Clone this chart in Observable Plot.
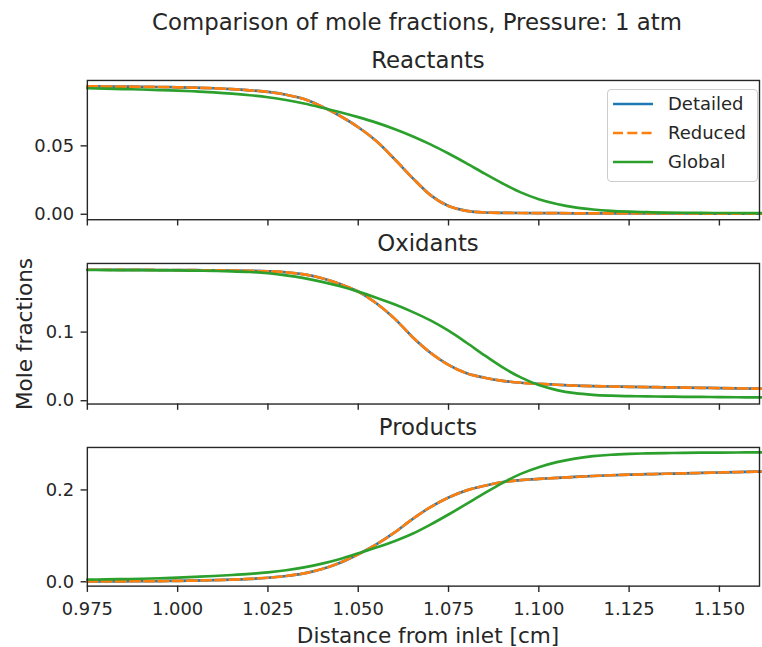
<!DOCTYPE html>
<html>
<head>
<meta charset="utf-8">
<script src="https://cdn.jsdelivr.net/npm/d3@7"></script>
<script src="https://cdn.jsdelivr.net/npm/@observablehq/plot@0.6"></script>
<style>
html, body { margin: 0; padding: 0; background: #fff; overflow: hidden; }
#fig { position: relative; width: 762px; height: 647px; overflow: hidden; font-family: "DejaVu Sans", sans-serif; color: #262626; }
.panel { position: absolute; left: 0; }
.panel svg { overflow: visible; }
#overlay { position: absolute; left: 0; top: 0; pointer-events: none; }
#legend { position: absolute; box-sizing: border-box; border: 1px solid #cccccc; border-radius: 4px; background: rgba(255,255,255,0.8); }
#legend .lbl { position: absolute; font-size: 18px; line-height: 22px; height: 22px; white-space: nowrap; color: #262626; }
#legend svg { position: absolute; }
[aria-label$="-axis tick"] { stroke-width: 1.4px; }
</style>
</head>
<body>
<div id="fig"></div>
<script>
// ---- data ----
const distance = [0.975,0.980,0.985,0.990,0.995,1.000,1.005,1.010,1.015,1.020,1.025,1.030,1.035,1.040,1.045,1.050,1.055,1.060,1.065,1.070,1.075,1.080,1.085,1.090,1.095,1.100,1.105,1.110,1.115,1.120,1.125,1.130,1.135,1.140,1.145,1.150,1.155,1.160,1.165];

const reactantsDetailed = [0.0935,0.0934,0.0933,0.0932,0.0930,0.0928,0.0925,0.0921,0.0915,0.0906,0.0894,0.0874,0.0842,0.0787,0.0718,0.0636,0.0535,0.0405,0.0266,0.0140,0.0060,0.0025,0.0013,0.0010,0.0009,0.0008,0.0008,0.0007,0.0007,0.0007,0.0006,0.0006,0.0006,0.0006,0.0005,0.0005,0.0005,0.0005,0.0005];
const reactantsReduced  = [0.0935,0.0934,0.0933,0.0932,0.0930,0.0928,0.0925,0.0921,0.0915,0.0906,0.0894,0.0874,0.0842,0.0787,0.0718,0.0636,0.0535,0.0405,0.0266,0.0140,0.0060,0.0025,0.0013,0.0010,0.0009,0.0008,0.0008,0.0007,0.0007,0.0007,0.0006,0.0006,0.0006,0.0006,0.0005,0.0005,0.0005,0.0005,0.0005];
const reactantsGlobal   = [0.0921,0.0918,0.0915,0.0912,0.0908,0.0904,0.0898,0.0891,0.0882,0.0870,0.0855,0.0835,0.0810,0.0779,0.0746,0.0710,0.0670,0.0624,0.0571,0.0511,0.0444,0.0372,0.0297,0.0225,0.0160,0.0110,0.0075,0.0050,0.0035,0.0025,0.0019,0.0015,0.0012,0.0011,0.0010,0.0009,0.0009,0.0008,0.0008];

const oxidantsDetailed = [0.1908,0.1908,0.1907,0.1906,0.1905,0.1904,0.1902,0.1900,0.1897,0.1893,0.1886,0.1872,0.1840,0.1785,0.1700,0.1590,0.1420,0.1200,0.0930,0.0700,0.0522,0.0400,0.0335,0.0290,0.0262,0.0245,0.0233,0.0221,0.0213,0.0207,0.0203,0.0199,0.0195,0.0192,0.0188,0.0184,0.0180,0.0176,0.0172];
const oxidantsReduced  = [0.1908,0.1908,0.1907,0.1906,0.1905,0.1904,0.1902,0.1900,0.1897,0.1893,0.1886,0.1872,0.1840,0.1785,0.1700,0.1590,0.1420,0.1200,0.0930,0.0700,0.0522,0.0400,0.0335,0.0290,0.0262,0.0245,0.0233,0.0221,0.0213,0.0207,0.0203,0.0199,0.0195,0.0192,0.0188,0.0184,0.0180,0.0176,0.0172];
const oxidantsGlobal   = [0.1905,0.1904,0.1903,0.1902,0.1900,0.1898,0.1895,0.1891,0.1886,0.1876,0.1857,0.1827,0.1786,0.1732,0.1667,0.1590,0.1502,0.1405,0.1295,0.1170,0.1020,0.0845,0.0660,0.0485,0.0340,0.0228,0.0155,0.0110,0.0086,0.0074,0.0067,0.0063,0.0060,0.0057,0.0055,0.0053,0.0051,0.0049,0.0048];

const productsDetailed = [0.0008,0.0009,0.0010,0.0012,0.0015,0.0020,0.0026,0.0034,0.0046,0.0063,0.0088,0.0125,0.0183,0.0277,0.0415,0.0600,0.0815,0.1070,0.1365,0.1625,0.1835,0.1990,0.2090,0.2172,0.2213,0.2240,0.2262,0.2284,0.2304,0.2320,0.2332,0.2343,0.2352,0.2361,0.2370,0.2380,0.2389,0.2397,0.2405];
const productsReduced  = [0.0008,0.0009,0.0010,0.0012,0.0015,0.0020,0.0026,0.0034,0.0046,0.0063,0.0088,0.0125,0.0183,0.0277,0.0415,0.0600,0.0815,0.1070,0.1365,0.1625,0.1835,0.1990,0.2090,0.2172,0.2213,0.2240,0.2262,0.2284,0.2304,0.2320,0.2332,0.2343,0.2352,0.2361,0.2370,0.2380,0.2389,0.2397,0.2405];
const productsGlobal   = [0.0048,0.0052,0.0058,0.0066,0.0077,0.0092,0.0108,0.0126,0.0147,0.0172,0.0205,0.0250,0.0313,0.0395,0.0497,0.0620,0.0745,0.0885,0.1045,0.1245,0.1465,0.1695,0.1930,0.2155,0.2350,0.2495,0.2605,0.2683,0.2735,0.2767,0.2785,0.2796,0.2803,0.2808,0.2811,0.2814,0.2816,0.2817,0.2818];

const seriesNames  = ["Detailed", "Reduced", "Global"];
const seriesColors = ["#1f77b4", "#ff7f0e", "#2ca02c"];
const seriesDash   = [null, "10,4.3", null];

const panelTitles = ["Reactants", "Oxidants", "Products"];
const xTicks = [0.975, 1.000, 1.025, 1.050, 1.075, 1.100, 1.125, 1.150];
const yTicksReactants = [0.00, 0.05];
const yTicksOxidants  = [0.0, 0.1];
const yTicksProducts  = [0.0, 0.2];

const figTitle = "Comparison of mole fractions, Pressure: 1 atm";
const yLabel = "Mole fractions";
const xLabel = "Distance from inlet [cm]";

// ---- layout ----
const fig = document.getElementById("fig");
const xDomain = [0.975, 1.1611];
const panels = [
  {series: [reactantsDetailed, reactantsReduced, reactantsGlobal], yDomain: [-0.0040, 0.0978], yTicks: yTicksReactants, fmt: ".2f", top: 80, bottom: 220, showX: false},
  {series: [oxidantsDetailed, oxidantsReduced, oxidantsGlobal], yDomain: [-0.0048, 0.2000], yTicks: yTicksOxidants, fmt: ".1f", top: 262.7, bottom: 404, showX: false},
  {series: [productsDetailed, productsReduced, productsGlobal], yDomain: [-0.0095, 0.2925], yTicks: yTicksProducts, fmt: ".1f", top: 447.3, bottom: 586.7, showX: true}
];

panels.forEach((p) => {
  const mt = 6, mb = p.showX ? 50 : 14;
  const marks = p.series.map((vals, si) => {
    const data = distance.map((x, i) => ({x, y: vals[i]}));
    const opts = {x: "x", y: "y", stroke: seriesColors[si], strokeWidth: 2.7, curve: "monotone-x"};
    if (seriesDash[si]) opts.strokeDasharray = seriesDash[si];
    return Plot.line(data, opts);
  });
  marks.push(Plot.frame({stroke: "#262626", strokeWidth: 1.4}));
  const chart = Plot.plot({
    width: 766,
    height: (p.bottom - p.top) + mt + mb,
    marginLeft: 87.3, marginRight: 3, marginTop: mt, marginBottom: mb,
    style: {fontFamily: "DejaVu Sans", fontSize: "18px", color: "#262626", background: "transparent", overflow: "visible"},
    x: {domain: xDomain, ticks: xTicks, tickFormat: p.showX ? d3.format(".3f") : () => "", tickSize: 6.3, tickPadding: 10, label: null},
    y: {domain: p.yDomain, ticks: p.yTicks, tickFormat: d3.format(p.fmt), tickSize: 6.3, tickPadding: 7, label: null},
    marks
  });
  const div = document.createElement("div");
  div.className = "panel";
  div.style.top = (p.top - mt) + "px";
  div.appendChild(chart);
  fig.appendChild(div);
});

// ---- text overlay ----
const ns = "http://www.w3.org/2000/svg";
const ov = document.createElementNS(ns, "svg");
ov.setAttribute("id", "overlay");
ov.setAttribute("width", 762);
ov.setAttribute("height", 647);
function addText(str, x, y, size, transform) {
  const t = document.createElementNS(ns, "text");
  t.setAttribute("x", x); t.setAttribute("y", y);
  t.setAttribute("text-anchor", "middle");
  t.setAttribute("font-family", "DejaVu Sans");
  t.setAttribute("font-size", size);
  t.setAttribute("fill", "#262626");
  if (transform) t.setAttribute("transform", transform);
  t.textContent = str;
  ov.appendChild(t);
}
addText(figTitle, 417, 29.5, 22.8);
panels.forEach((p, i) => addText(panelTitles[i], 428, p.top - 12, 22.8));
addText(yLabel, 0, 0, 21.6, "translate(31.5,334) rotate(-90)");
addText(xLabel, 428, 643, 21.6);
fig.appendChild(ov);

// ---- legend ----
const lg = document.createElement("div");
lg.id = "legend";
lg.style.left = "607px"; lg.style.top = "89px";
lg.style.width = "151px"; lg.style.height = "93px";
seriesNames.forEach((name, i) => {
  const cy = 15 + i * 29;
  const s = document.createElementNS(ns, "svg");
  s.setAttribute("width", 40); s.setAttribute("height", 8);
  s.style.left = "5px"; s.style.top = (cy - 4 - 1) + "px";
  const l = document.createElementNS(ns, "line");
  l.setAttribute("x1", 0); l.setAttribute("x2", 40);
  l.setAttribute("y1", 4); l.setAttribute("y2", 4);
  l.setAttribute("stroke", seriesColors[i]);
  l.setAttribute("stroke-width", 2.7);
  if (seriesDash[i]) l.setAttribute("stroke-dasharray", seriesDash[i]);
  s.appendChild(l);
  lg.appendChild(s);
  const t = document.createElement("div");
  t.className = "lbl";
  t.textContent = name;
  t.style.left = "60px"; t.style.top = (cy - 11 - 1) + "px";
  lg.appendChild(t);
});
fig.appendChild(lg);
</script>
</body>
</html>
